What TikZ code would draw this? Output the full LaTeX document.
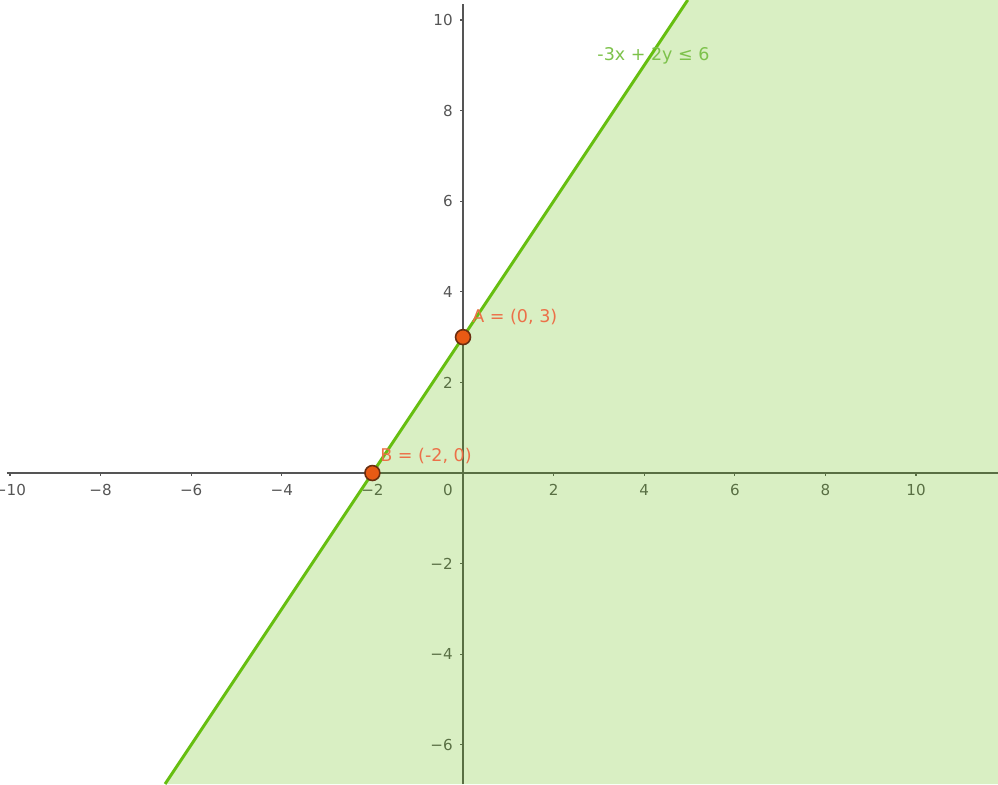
\documentclass[tikz,border=0pt]{standalone}
\usepackage{fontspec}
\setmainfont{DejaVu Sans}
\definecolor{axisgray}{HTML}{555555}
\definecolor{linegreen}{RGB}{102,190,16}
\definecolor{textgreen}{HTML}{7DC24B}
\definecolor{ptorange}{HTML}{E85A14}
\definecolor{ptborder}{HTML}{6A2E10}
\definecolor{lblorange}{HTML}{EC7048}
\usetikzlibrary{positioning}

\begin{document}
\begin{tikzpicture}[
  every node/.style={font=\fontsize{9.5}{11}\selectfont},
  axis/.style={draw=axisgray, line width=0.9pt},
  ticklbl/.style={text=axisgray, inner sep=0pt},
  pt/.style={circle, fill=ptorange, draw=ptborder, line width=1pt,
             minimum size=0.33cm, inner sep=0pt},
  ptlbl/.style={text=lblorange, font=\fontsize{11}{13}\selectfont,
                anchor=west, inner sep=0pt},
  bound/.style={draw=linegreen, line width=1.9pt}
]
  \useasboundingbox (-10.221,-6.865) rectangle (11.810,10.442);
  \clip (-10.221,-6.865) rectangle (11.810,10.442);

  % axes and ticks
  \draw[axis] (-10.07,0) -- (11.81,0);
  \draw[axis] (0,-6.865) -- (0,10.35);
  \foreach \t/\s in {-10/−10,-8/−8,-6/−6,-4/−4,-2/−2,2/2,4/4,6/6,8/8,10/10} {
    \draw[axisgray, line width=0.8pt] (\t,0) -- (\t,-0.07);
    \node[ticklbl] at (\t,-0.375) {\s};
  }
  \foreach \t/\s in {-6/−6,-4/−4,-2/−2,2/2,4/4,6/6,8/8,10/10} {
    \draw[axisgray, line width=0.8pt] (0,\t) -- (-0.07,\t);
    \node[ticklbl, anchor=east] at (-0.22,\t) {\s};
  }
  \node[ticklbl] (orig) at (-0.33,-0.375) {0};

  % half-plane
  \coordinate (lo) at (-6.577,-6.865);
  \coordinate (hi) at (4.961,10.442);
  \fill[linegreen, fill opacity=0.25]
    (lo) -- (hi) -- (11.81,10.442) -- (11.81,-6.865) -- cycle;
  \draw[bound] (lo) -- (hi);

  \node[text=textgreen, font=\fontsize{11}{13}\selectfont] (ineq)
    at (4.205,9.205) {-3x + 2y ≤ 6};

  \node[pt] (A) at (0,3) {};
  \node[pt] (B) at (-2,0) {};
  \node[ptlbl] (lblA) at (0.2,3.44) {A = (0, 3)};
  \node[ptlbl] (lblB) at (-1.83,0.375) {B = (-2, 0)};
\end{tikzpicture}
\end{document}
